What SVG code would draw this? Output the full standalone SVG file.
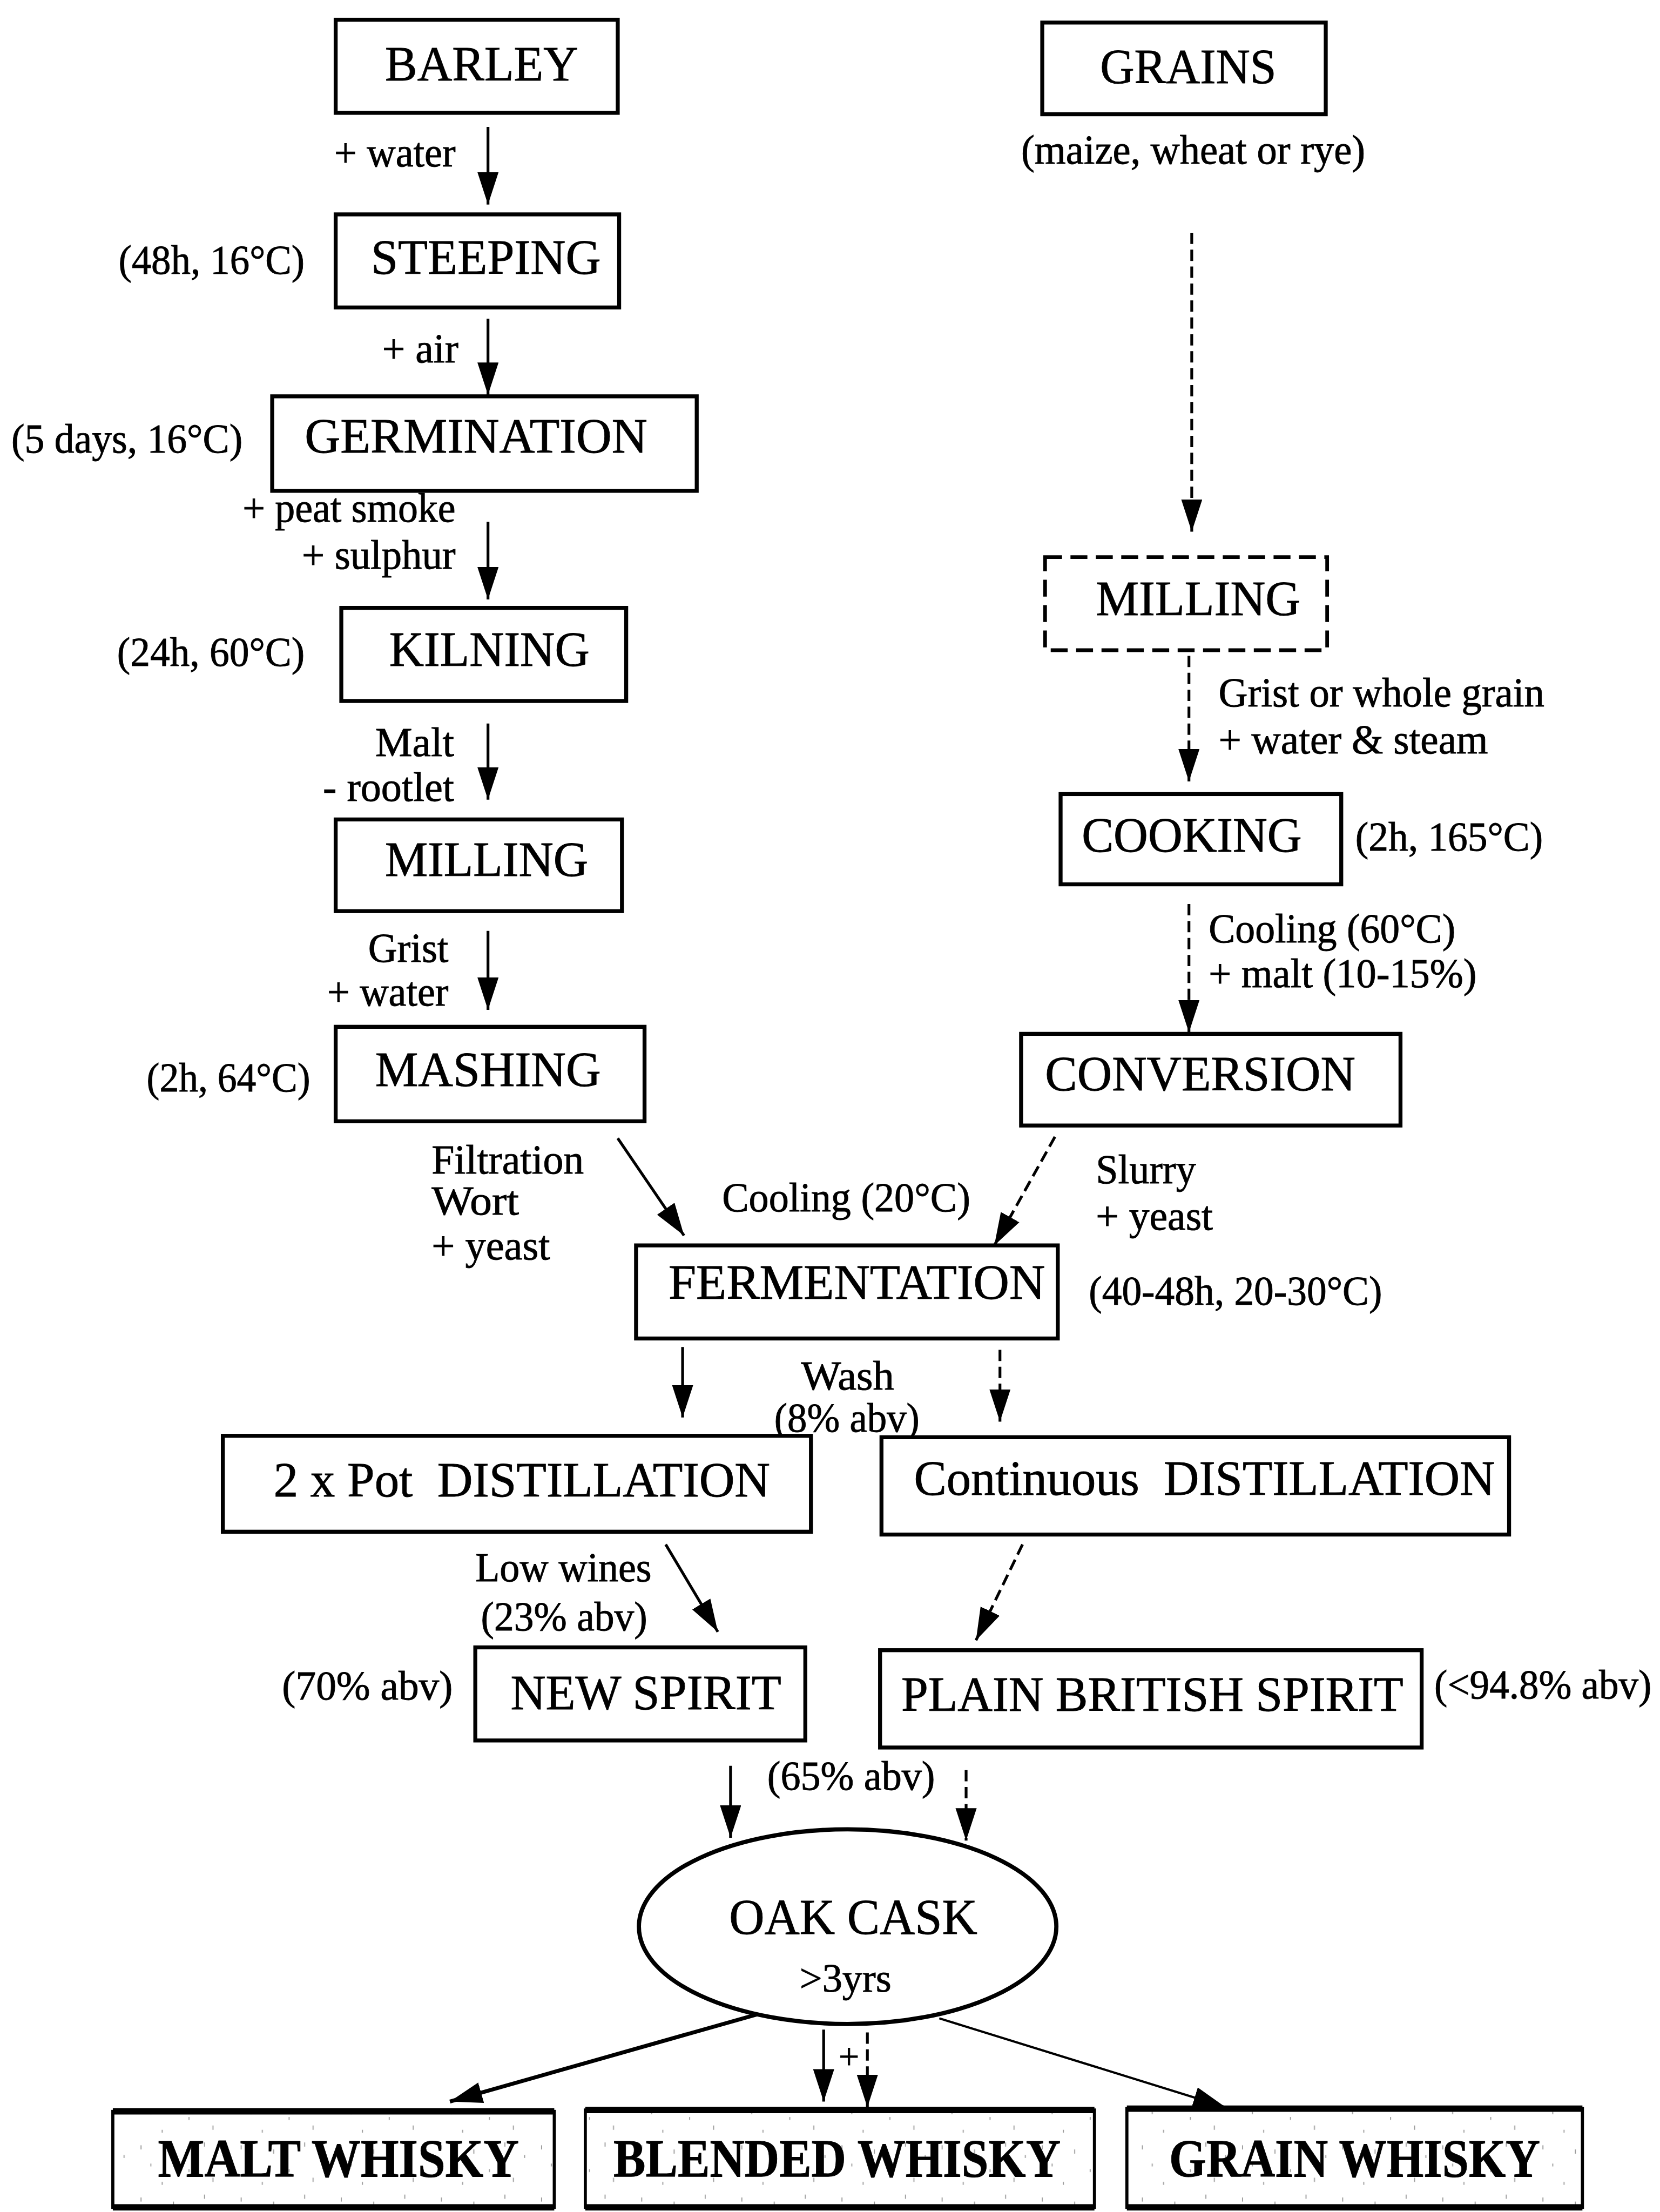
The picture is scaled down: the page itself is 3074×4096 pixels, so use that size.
<svg xmlns="http://www.w3.org/2000/svg" width="3074" height="4096" viewBox="0 0 3074 4096">
  <defs>
    <style>
      text { font-family: "Liberation Serif", "Times New Roman", serif; fill: #000; stroke: #000; stroke-width: 0.35; }
      .nm { font-size: 35px; }
      .lb { font-size: 29px; }
      .wk { font-size: 38px; font-weight: bold; }
      .box { fill: #fff; stroke: #000; stroke-width: 2.8; }
      .dbox { fill: #fff; stroke: #000; stroke-width: 2.6; stroke-dasharray: 12 6; }
      .fin { fill: url(#speck); stroke: #000; stroke-width: 2.2; }
      .edge { stroke: #000; stroke-width: 4.5; }
      .cn { fill: none; stroke: #000; stroke-width: 2; marker-end: url(#ah); }
      .dsh { stroke-dasharray: 8 4; }
    </style>
    <marker id="ah" markerUnits="userSpaceOnUse" markerWidth="24" markerHeight="16" refX="23" refY="7.5" orient="auto">
      <path d="M0,0 L23,7.5 L0,15 Z" fill="#000"/>
    </marker>
    <!-- scattered specks for the whisky product boxes -->
    <pattern id="speck" width="71" height="37" patternUnits="userSpaceOnUse">
      <rect width="71" height="37" fill="#fff"/>
      <path d="M3 2v3M17 11v2M29 4v3M44 30v2M52 7v3M63 21v2M9 27v3M36 17v2" stroke="#999" stroke-width="0.7"/>
    </pattern>
  </defs>
  <rect width="3074" height="4096" fill="#fff"/>

  <g transform="scale(2.61172)">
    <!-- connectors -->
    <g id="connectors">
      <line class="cn" x1="346" y1="90" x2="346" y2="145"/>
      <line class="cn" x1="346" y1="226" x2="346" y2="280"/>
      <line class="cn" x1="346" y1="370" x2="346" y2="425"/>
      <line class="cn" x1="346" y1="513" x2="346" y2="567"/>
      <line class="cn" x1="346" y1="660" x2="346" y2="716"/>
      <line class="cn" x1="438" y1="807" x2="485" y2="876"/>
      <line class="cn dsh" x1="845" y1="165" x2="845" y2="377"/>
      <line class="cn dsh" x1="843" y1="465" x2="843" y2="554"/>
      <line class="cn dsh" x1="843" y1="641" x2="843" y2="732"/>
      <line class="cn dsh" x1="748" y1="806" x2="705" y2="883"/>
      <line class="cn" x1="484" y1="955" x2="484" y2="1005"/>
      <line class="cn dsh" x1="709" y1="957" x2="709" y2="1008"/>
      <line class="cn" x1="472" y1="1095" x2="509" y2="1157"/>
      <line class="cn dsh" x1="725" y1="1095" x2="692" y2="1163"/>
      <line class="cn" x1="518" y1="1252" x2="518" y2="1303"/>
      <line class="cn dsh" x1="685" y1="1255" x2="685" y2="1305"/>
      <line class="cn" style="stroke-width:2.8" x1="541" y1="1427" x2="319" y2="1490"/>
      <line class="cn" x1="584" y1="1439" x2="584" y2="1490"/>
      <line class="cn dsh" x1="615" y1="1441" x2="615" y2="1494"/>
      <line class="cn" style="stroke-width:1.6" x1="666" y1="1431" x2="869" y2="1494"/>

      <!-- connector labels -->
      <text class="lb" x="237" y="118" textLength="86" lengthAdjust="spacingAndGlyphs">+ water</text>
      <text class="lb" x="271" y="257" textLength="54" lengthAdjust="spacingAndGlyphs">+ air</text>
      <text class="lb" x="172" y="370" textLength="151" lengthAdjust="spacingAndGlyphs">+ peat smoke</text>
      <text class="lb" x="214" y="403" textLength="109" lengthAdjust="spacingAndGlyphs">+ sulphur</text>
      <text class="lb" x="266" y="536" textLength="56" lengthAdjust="spacingAndGlyphs">Malt</text>
      <text class="lb" x="229" y="568" textLength="93" lengthAdjust="spacingAndGlyphs">- rootlet</text>
      <text class="lb" x="261" y="682" textLength="57" lengthAdjust="spacingAndGlyphs">Grist</text>
      <text class="lb" x="232" y="713" textLength="86" lengthAdjust="spacingAndGlyphs">+ water</text>
      <text class="lb" x="306" y="832" textLength="108" lengthAdjust="spacingAndGlyphs">Filtration</text>
      <text class="lb" x="306" y="861" textLength="62" lengthAdjust="spacingAndGlyphs">Wort</text>
      <text class="lb" x="306" y="893" textLength="84" lengthAdjust="spacingAndGlyphs">+ yeast</text>
      <text class="lb" x="512" y="859" textLength="176" lengthAdjust="spacingAndGlyphs">Cooling (20°C)</text>
      <text class="lb" x="777" y="839" textLength="71" lengthAdjust="spacingAndGlyphs">Slurry</text>
      <text class="lb" x="777" y="872" textLength="83" lengthAdjust="spacingAndGlyphs">+ yeast</text>
      <text class="lb" x="568" y="985" textLength="66" lengthAdjust="spacingAndGlyphs">Wash</text>
      <text class="lb" x="549" y="1015" textLength="103" lengthAdjust="spacingAndGlyphs">(8% abv)</text>
      <text class="lb" x="337" y="1121" textLength="125" lengthAdjust="spacingAndGlyphs">Low wines</text>
      <text class="lb" x="341" y="1156" textLength="118" lengthAdjust="spacingAndGlyphs">(23% abv)</text>
      <text class="lb" x="544" y="1269" textLength="119" lengthAdjust="spacingAndGlyphs">(65% abv)</text>
      <text class="lb" x="602" y="1467" text-anchor="middle" style="font-size:26px">+</text>
      <text class="lb" x="724" y="116" textLength="244" lengthAdjust="spacingAndGlyphs">(maize, wheat or rye)</text>
      <text class="lb" x="864" y="501" textLength="231" lengthAdjust="spacingAndGlyphs">Grist or whole grain</text>
      <text class="lb" x="864" y="534" textLength="191" lengthAdjust="spacingAndGlyphs">+ water &amp; steam</text>
      <text class="lb" x="857" y="668" textLength="175" lengthAdjust="spacingAndGlyphs">Cooling (60°C)</text>
      <text class="lb" x="857" y="700" textLength="190" lengthAdjust="spacingAndGlyphs">+ malt (10-15%)</text>
    </g>

    <!-- malt whisky line -->
    <g id="barley">
      <rect class="box" x="238" y="14" width="200" height="66"/>
      <text class="nm" x="273" y="57" textLength="137" lengthAdjust="spacingAndGlyphs">BARLEY</text>
    </g>
    <g id="steeping">
      <rect class="box" x="238" y="152" width="201" height="66"/>
      <text class="nm" x="263" y="194" textLength="163" lengthAdjust="spacingAndGlyphs">STEEPING</text>
      <text class="lb" x="84" y="194" textLength="132" lengthAdjust="spacingAndGlyphs">(48h, 16°C)</text>
    </g>
    <g id="germination">
      <rect class="box" x="193" y="281" width="301" height="67"/>
      <text class="nm" x="216" y="321" textLength="243" lengthAdjust="spacingAndGlyphs">GERMINATION</text>
      <text class="lb" x="8" y="321" textLength="164" lengthAdjust="spacingAndGlyphs">(5 days, 16°C)</text>
    </g>
    <g id="kilning">
      <rect class="box" x="242" y="431" width="202" height="66"/>
      <text class="nm" x="276" y="472" textLength="142" lengthAdjust="spacingAndGlyphs">KILNING</text>
      <text class="lb" x="83" y="472" textLength="133" lengthAdjust="spacingAndGlyphs">(24h, 60°C)</text>
    </g>
    <g id="milling-malt">
      <rect class="box" x="238" y="581" width="203" height="65"/>
      <text class="nm" x="273" y="621" textLength="144" lengthAdjust="spacingAndGlyphs">MILLING</text>
    </g>
    <g id="mashing">
      <rect class="box" x="238" y="728" width="219" height="67"/>
      <text class="nm" x="266" y="770" textLength="160" lengthAdjust="spacingAndGlyphs">MASHING</text>
      <text class="lb" x="104" y="774" textLength="116" lengthAdjust="spacingAndGlyphs">(2h, 64°C)</text>
    </g>

    <!-- grain whisky line -->
    <g id="grains">
      <rect class="box" x="739" y="16" width="201" height="65"/>
      <text class="nm" x="780" y="59" textLength="125" lengthAdjust="spacingAndGlyphs">GRAINS</text>
    </g>
    <g id="milling-grain">
      <rect class="dbox" x="741" y="395" width="200" height="66"/>
      <text class="nm" x="777" y="436" textLength="145" lengthAdjust="spacingAndGlyphs">MILLING</text>
    </g>
    <g id="cooking">
      <rect class="box" x="752" y="563" width="199" height="64"/>
      <text class="nm" x="767" y="604" textLength="156" lengthAdjust="spacingAndGlyphs">COOKING</text>
      <text class="lb" x="961" y="603" textLength="133" lengthAdjust="spacingAndGlyphs">(2h, 165°C)</text>
    </g>
    <g id="conversion">
      <rect class="box" x="724" y="733" width="269" height="65"/>
      <text class="nm" x="741" y="773" textLength="220" lengthAdjust="spacingAndGlyphs">CONVERSION</text>
    </g>

    <!-- shared stages -->
    <g id="fermentation">
      <rect class="box" x="451" y="883" width="299" height="66"/>
      <text class="nm" x="474" y="921" textLength="267" lengthAdjust="spacingAndGlyphs">FERMENTATION</text>
      <text class="lb" x="772" y="925" textLength="208" lengthAdjust="spacingAndGlyphs">(40-48h, 20-30°C)</text>
    </g>
    <g id="pot-distillation">
      <rect class="box" x="158" y="1018" width="417" height="68"/>
      <text class="nm" x="194" y="1061" xml:space="preserve" textLength="352" lengthAdjust="spacingAndGlyphs">2 x Pot  DISTILLATION</text>
    </g>
    <g id="continuous-distillation">
      <rect class="box" x="625" y="1019" width="445" height="69"/>
      <text class="nm" x="648" y="1060" xml:space="preserve" textLength="412" lengthAdjust="spacingAndGlyphs">Continuous  DISTILLATION</text>
    </g>
    <g id="new-spirit">
      <rect class="box" x="337" y="1168" width="234" height="66"/>
      <text class="nm" x="362" y="1212" textLength="192" lengthAdjust="spacingAndGlyphs">NEW SPIRIT</text>
      <text class="lb" x="200" y="1205" textLength="121" lengthAdjust="spacingAndGlyphs">(70% abv)</text>
    </g>
    <g id="plain-british-spirit">
      <rect class="box" x="624" y="1170" width="384" height="69"/>
      <text class="nm" x="639" y="1213" textLength="356" lengthAdjust="spacingAndGlyphs">PLAIN BRITISH SPIRIT</text>
      <text class="lb" x="1017" y="1204" textLength="154" lengthAdjust="spacingAndGlyphs">(&lt;94.8% abv)</text>
    </g>
    <g id="oak-cask">
      <ellipse cx="601" cy="1366" rx="148" ry="69" fill="#fff" stroke="#000" stroke-width="3"/>
      <text class="nm" x="517" y="1371" style="font-size:36px" textLength="176" lengthAdjust="spacingAndGlyphs">OAK CASK</text>
      <text class="lb" x="567" y="1412" style="font-size:28px" textLength="65" lengthAdjust="spacingAndGlyphs">&gt;3yrs</text>
    </g>

    <!-- products -->
    <g id="malt-whisky">
      <rect class="fin" x="80" y="1497" width="313" height="68"/>
      <line class="edge" x1="80" y1="1497" x2="393" y2="1497"/>
      <line class="edge" x1="80" y1="1565" x2="393" y2="1565"/>
      <text class="wk" x="112" y="1543" textLength="256" lengthAdjust="spacingAndGlyphs">MALT WHISKY</text>
    </g>
    <g id="blended-whisky">
      <rect class="fin" x="415" y="1496" width="361" height="69"/>
      <line class="edge" x1="415" y1="1496" x2="776" y2="1496"/>
      <line class="edge" x1="415" y1="1565" x2="776" y2="1565"/>
      <text class="wk" x="435" y="1543" textLength="317" lengthAdjust="spacingAndGlyphs">BLENDED WHISKY</text>
    </g>
    <g id="grain-whisky">
      <rect class="fin" x="799" y="1495" width="323" height="70"/>
      <line class="edge" x1="799" y1="1495" x2="1122" y2="1495"/>
      <line class="edge" x1="799" y1="1565" x2="1122" y2="1565"/>
      <text class="wk" x="829" y="1543" textLength="263" lengthAdjust="spacingAndGlyphs">GRAIN WHISKY</text>
    </g>
  </g>
</svg>
